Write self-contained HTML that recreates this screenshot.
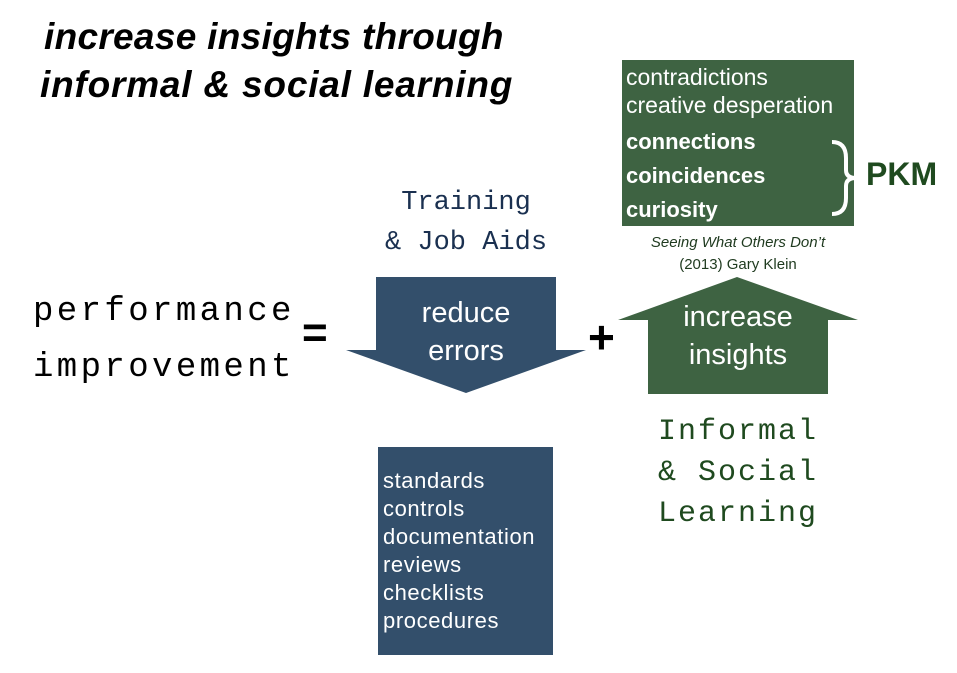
<!DOCTYPE html>
<html><head><style>
body{margin:0;width:957px;height:673px;background:#fff;position:relative;overflow:hidden;font-family:"Liberation Sans",sans-serif}
.a{position:absolute;white-space:nowrap}
.mono{font-family:"Liberation Mono",monospace}
</style></head><body>
<div class="a" style="left:44px;top:13px;font-size:37px;font-style:italic;font-weight:bold;line-height:48px;letter-spacing:0.3px">increase insights through<br><span style="margin-left:-4px;letter-spacing:0.8px">informal &amp; social learning</span></div>
<svg class="a" style="left:0;top:0" width="957" height="673">
<polygon points="376,277 556,277 556,350 586,350 466,393 346,350 376,350" fill="#334f6b"/>
<polygon points="737,277 858,320 828,320 828,394 648,394 648,320 618,320" fill="#3e6342"/>
<rect x="622" y="60" width="232" height="166" fill="#3e6342"/>
<rect x="378" y="447" width="175" height="208" fill="#334f6b"/>
<path d="M832,142 Q846,142 846,158 L846,170 Q846,178 856,178 Q846,178 846,186 L846,198 Q846,214 832,214" stroke="#fff" stroke-width="4" fill="none"/>
</svg>
<div class="a mono" style="left:33px;top:284px;font-size:34px;line-height:56px;letter-spacing:3.4px">performance<br>improvement</div>
<div class="a" style="left:302px;top:308px;font-size:44px;font-weight:bold">=</div>
<div class="a" style="left:588px;top:310px;font-size:46px;font-weight:bold">+</div>
<div class="a mono" style="left:385px;top:183px;font-size:27px;line-height:40px;color:#1a3050">&nbsp;Training<br>&amp; Job Aids</div>
<div class="a" style="left:376px;top:294px;width:180px;text-align:center;font-size:29px;line-height:38px;color:#fff">reduce<br>errors</div>
<div class="a" style="left:648px;top:298px;width:180px;text-align:center;font-size:29px;line-height:38px;color:#fff">increase<br>insights</div>
<div class="a mono" style="left:658px;top:412px;font-size:30px;line-height:41px;color:#1f4a1f;letter-spacing:2px">Informal<br>&amp; Social<br>Learning</div>
<div class="a" style="left:626px;top:63px;font-size:23px;line-height:28px;color:#fff">contradictions<br>creative desperation</div>
<div class="a" style="left:626px;top:125px;font-size:22px;line-height:34px;color:#fff;font-weight:bold">connections<br>coincidences<br>curiosity</div>
<div class="a" style="left:866px;top:156px;font-size:32px;font-weight:bold;color:#1f4a1f">PKM</div>
<div class="a" style="left:622px;top:232px;width:232px;text-align:center;font-size:15px;line-height:22px;color:#1f3a1f"><i>Seeing What Others Don’t</i><br>(2013) Gary Klein</div>
<div class="a" style="left:383px;top:467px;font-size:22px;line-height:28px;color:#fff;letter-spacing:0.6px">standards<br>controls<br>documentation<br>reviews<br>checklists<br>procedures</div>
</body></html>
